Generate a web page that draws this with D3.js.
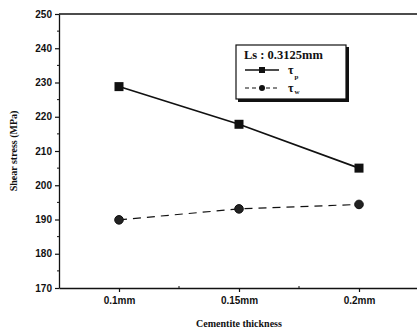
<!DOCTYPE html>
<html>
<head>
<meta charset="utf-8">
<script src="https://cdn.jsdelivr.net/npm/d3@7"></script>
<style>
  body { margin: 0; background: #fff; }
  svg { display: block; }
  .tick text { font-family: "Liberation Sans", Arial, sans-serif; font-weight: bold; font-size: 10px; fill: #111; }
  .serif { font-family: "Liberation Serif", "Times New Roman", serif; font-weight: bold; fill: #111; }
</style>
</head>
<body>
<div id="chart"></div>
<script>
"use strict";
(function() {

const WIDTH = 417
const HEIGHT = 335

const margin = { top: 14, bottom: 47, left: 59, right: -2 }

// data
const thickness = ["0.1mm", "0.15mm", "0.2mm"]
const tauP = [228.8, 217.8, 205.0]
const tauW = [189.9, 193.1, 194.4]
const yTicks = [170, 180, 190, 200, 210, 220, 230, 240, 250]

const INK = "#111"

let svg = d3.select("#chart").append("svg")
    .attr("width", WIDTH)
    .attr("height", HEIGHT);

let x_scale = d3.scalePoint()
    .domain(thickness)
    .range([margin.left, WIDTH - margin.right])
    .padding(0.5);

let y_scale = d3.scaleLinear()
    .domain([170, 250])
    .range([HEIGHT - margin.bottom, margin.top]);

// frame: top line
svg.append("line")
    .attr("x1", margin.left).attr("x2", WIDTH)
    .attr("y1", y_scale(250)).attr("y2", y_scale(250))
    .attr("stroke", INK).attr("stroke-width", 1.3);

// y axis
let yAxis = svg.append("g")
    .attr("transform", `translate(${margin.left},0)`)
    .call(d3.axisLeft(y_scale).tickValues(yTicks).tickSize(4).tickSizeOuter(0).tickPadding(3).tickFormat(d3.format("d")));
yAxis.select(".domain").attr("stroke", INK).attr("stroke-width", 1.3);
yAxis.selectAll(".tick line").attr("stroke", INK).attr("stroke-width", 1.2);

// minor y ticks
svg.append("g").selectAll("line")
    .data(d3.range(175, 250, 10))
    .join("line")
    .attr("x1", margin.left - 2).attr("x2", margin.left)
    .attr("y1", d => y_scale(d)).attr("y2", d => y_scale(d))
    .attr("stroke", INK).attr("stroke-width", 1);

// x axis
let xAxis = svg.append("g")
    .attr("transform", `translate(0,${y_scale(170)})`)
    .call(d3.axisBottom(x_scale).tickSize(4).tickSizeOuter(0).tickPadding(5));
xAxis.select(".domain").attr("stroke", INK).attr("stroke-width", 1.3);
xAxis.selectAll(".tick line").attr("stroke", INK).attr("stroke-width", 1.2);

// minor x ticks between categories
let mids = d3.pairs(thickness).map(p => (x_scale(p[0]) + x_scale(p[1])) / 2)
svg.append("g").selectAll("line")
    .data(mids)
    .join("line")
    .attr("x1", d => d).attr("x2", d => d)
    .attr("y1", y_scale(170) - 2).attr("y2", y_scale(170))
    .attr("stroke", INK).attr("stroke-width", 1);

// axis titles
svg.append("text")
    .attr("class", "serif")
    .attr("transform", `translate(17,${(y_scale(170) + y_scale(250)) / 2}) rotate(-90)`)
    .attr("text-anchor", "middle")
    .style("font-size", "10px")
    .text("Shear stress (MPa)");

svg.append("text")
    .attr("class", "serif")
    .attr("x", x_scale("0.15mm"))
    .attr("y", 327)
    .attr("text-anchor", "middle")
    .style("font-size", "10px")
    .text("Cementite thickness");

// series
let line = d3.line()
    .x((d, i) => x_scale(thickness[i]))
    .y(d => y_scale(d));

svg.append("path")
    .attr("d", line(tauP))
    .attr("fill", "none")
    .attr("stroke", INK)
    .attr("stroke-width", 1.6);

svg.append("path")
    .attr("d", line(tauW))
    .attr("fill", "none")
    .attr("stroke", INK)
    .attr("stroke-width", 1.2)
    .attr("stroke-dasharray", "8,6");

svg.append("g").selectAll("rect")
    .data(tauP)
    .join("rect")
    .attr("x", (d, i) => x_scale(thickness[i]) - 4.5)
    .attr("y", d => y_scale(d) - 4.5)
    .attr("width", 9).attr("height", 9)
    .attr("fill", INK);

svg.append("g").selectAll("circle")
    .data(tauW)
    .join("circle")
    .attr("cx", (d, i) => x_scale(thickness[i]))
    .attr("cy", d => y_scale(d))
    .attr("r", 4.3)
    .attr("fill", "#222")
    .attr("stroke", INK)
    .attr("stroke-width", 1);

// legend
let lg = svg.append("g").attr("transform", "translate(236,45)");
lg.append("rect")
    .attr("x", 2).attr("y", 2).attr("width", 111).attr("height", 55)
    .attr("fill", INK);
lg.append("rect")
    .attr("x", 0).attr("y", 0).attr("width", 110).attr("height", 54)
    .attr("fill", "#fff").attr("stroke", INK).attr("stroke-width", 1.2);
lg.append("text")
    .attr("class", "serif")
    .attr("x", 8).attr("y", 14)
    .style("font-size", "12.5px")
    .text("Ls : 0.3125mm");

lg.append("line")
    .attr("x1", 9).attr("x2", 43).attr("y1", 25).attr("y2", 25)
    .attr("stroke", INK).attr("stroke-width", 1.4);
lg.append("rect")
    .attr("x", 23).attr("y", 22).attr("width", 6).attr("height", 6)
    .attr("fill", INK);
let tp = lg.append("text")
    .attr("class", "serif")
    .attr("x", 52).attr("y", 29)
    .style("font-size", "12px")
    .text("τ");
tp.append("tspan").attr("dx", 1).attr("dy", 5).style("font-size", "7px").text("p");

lg.append("line")
    .attr("x1", 9).attr("x2", 43).attr("y1", 43).attr("y2", 43)
    .attr("stroke", INK).attr("stroke-width", 1.2)
    .attr("stroke-dasharray", "4,3");
lg.append("circle")
    .attr("cx", 26).attr("cy", 43).attr("r", 3)
    .attr("fill", INK);
let tw = lg.append("text")
    .attr("class", "serif")
    .attr("x", 52).attr("y", 47)
    .style("font-size", "12px")
    .text("τ");
tw.append("tspan").attr("dx", 1).attr("dy", 2).style("font-size", "7px").text("w");

})();
</script>
</body>
</html>
